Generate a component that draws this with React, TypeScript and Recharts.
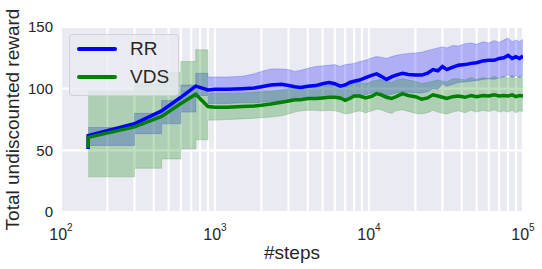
import {
  Area,
  CartesianGrid,
  ComposedChart,
  Label,
  Legend,
  Line,
  XAxis,
  YAxis,
} from 'recharts';

const FONT = '"Liberation Sans", Arial, sans-serif';
const INK = '#262626';
const RR_COLOR = '#0000ff';
const VDS_COLOR = '#008000';
const STEP_END = 900; // bands are stepped up to here, smooth after

const steps = [
  150, 150, 300, 450, 600, 750, 900,
  1000, 1200, 1500, 1800, 2000, 2300, 2700, 3000, 3300, 3600,
  4000, 4500, 5000, 5500, 6000, 6500, 7000, 7500, 8000, 8700,
  9500, 10500, 11200, 12000, 13000, 14000, 15000, 16500, 18000, 20000,
  22000, 24000, 26000, 28000, 30000, 32000, 35000, 38000, 42000, 46000,
  50000, 55000, 60000, 65000, 70000, 75000, 80000, 85000, 90000, 95000,
  100000,
];

const rrMean = [
  51, 62, 71.5, 82, 93, 102, 99,
  99.5, 99.5, 100, 100.5, 101.5, 103, 103.5, 102.5, 101.5, 101,
  102, 102.5, 104, 105, 104, 102, 103, 105, 106, 107,
  109, 111, 112, 110, 107.5, 109.5, 111, 112.5, 111.5, 111,
  111, 112.5, 115.5, 114.5, 118, 115.5, 117.5, 119, 119.5, 120.5,
  121, 122.5, 123, 123, 124.5, 125, 127, 124.5, 126, 124.5,
  126.5,
];

const rrLow = [
  54, 54, 63.5, 71.5, 81, 94.5, 88,
  88, 88, 88.5, 88.5, 89, 89.5, 90, 90, 90, 90.5,
  91, 91.5, 92.5, 93, 92.5, 91, 92, 93, 93.5, 94,
  95, 96.5, 97, 96.5, 94.5, 95.5, 96.5, 97.5, 97, 96.5,
  96.5, 97.5, 100, 99.5, 104, 102, 103.5, 105, 105.5, 106,
  106.5, 107.5, 108, 107.5, 109, 109.5, 111, 109, 110.5, 109,
  111,
];

const rrHigh = [
  68.5, 68.5, 80, 90.5, 103, 112.5, 109.5,
  109.5, 109.5, 110, 112, 114, 116, 116, 115.5, 114, 115,
  116.5, 118, 118.5, 119, 119.5, 118, 119.5, 120, 120.5, 122,
  123, 125, 126, 125.5, 124.5, 126, 127, 128, 128.5, 129,
  129.5, 131, 132, 133, 134, 133, 135, 134.5, 136.5, 137,
  136, 138, 137, 139, 137.5, 139.5, 141, 138, 139.5, 138,
  140,
];

const vdsMean = [
  52, 60.5, 69, 77.5, 88, 95.5, 85.5,
  85, 85, 85.5, 86, 86.5, 87.5, 89, 90, 91, 91,
  92, 92, 92.5, 93, 93, 92.5, 90.5, 92, 94, 94,
  92.5, 94, 96, 95, 93, 92, 93.5, 96, 94.5, 93.5,
  91.5, 92.5, 95, 94, 93, 92, 93.5, 94, 93, 94.5,
  93.5, 94.5, 94, 95, 94, 94.5, 94, 95, 93.5, 94.5,
  94,
];

const vdsLow = [
  28.5, 28.5, 35.5, 43, 51, 58.5, 74.5,
  74.5, 75, 75.5, 76, 76.5, 77, 78, 79.5, 81, 82,
  82.5, 82.5, 82, 82.5, 82, 81, 79.5, 80, 81, 82,
  80.5, 82, 83.5, 83, 81, 80, 82, 83, 81.5, 80,
  79.5, 80.5, 82.5, 81, 80, 79.5, 81, 82, 80.5, 82.5,
  81, 82.5, 81.5, 83, 81, 82, 81, 82.5, 80.5, 82,
  81.5,
];

const vdsHigh = [
  98, 98, 104, 113, 122, 131.5, 96,
  96, 96, 96.5, 97, 97.5, 98, 99, 100, 100.5, 100.5,
  101, 101.5, 102, 102.5, 103, 102.5, 102, 103.5, 104.5, 105,
  104, 106, 107, 107.5, 106, 105, 107, 108, 107, 106,
  104, 105, 106, 107, 106, 105.5, 108, 108, 107, 109,
  107.5, 109, 108, 110, 108, 110, 108.5, 111, 108, 110,
  109,
];

const xTicks = [
  100, 200, 300, 400, 500, 600, 700, 800, 900,
  1000, 2000, 3000, 4000, 5000, 6000, 7000, 8000, 9000,
  10000, 20000, 30000, 40000, 50000, 60000, 70000, 80000, 90000,
  100000,
];
const yTicks = [0, 50, 100, 150];

const legendItems = [
  { name: 'RR', color: RR_COLOR },
  { name: 'VDS', color: VDS_COLOR },
];

const data = steps.map((s, i) => ({
  steps: s,
  rr: rrMean[i],
  vds: vdsMean[i],
  rrEarly: s <= STEP_END ? [rrLow[i], rrHigh[i]] : null,
  rrLate: s >= STEP_END ? [rrLow[i], rrHigh[i]] : null,
  vdsEarly: s <= STEP_END ? [vdsLow[i], vdsHigh[i]] : null,
  vdsLate: s >= STEP_END ? [vdsLow[i], vdsHigh[i]] : null,
}));

function LogTick({ x, y, payload }: any) {
  const exp = Math.log10(payload.value);
  if (Math.abs(exp - Math.round(exp)) > 1e-6) return <g />;
  return (
    <text x={x} y={y + 20} textAnchor="middle" fill={INK} fontSize={16} fontFamily={FONT}>
      10
      <tspan dy={-9} fontSize={10}>
        {Math.round(exp)}
      </tspan>
    </text>
  );
}

function LegendBox() {
  return (
    <div
      style={{
        width: 110,
        height: 62,
        boxSizing: 'border-box',
        background: 'rgba(234,234,242,0.8)',
        border: '1px solid rgba(204,204,204,0.8)',
        borderRadius: 4,
        fontFamily: FONT,
      }}
    >
      {legendItems.map((item) => (
        <div key={item.name} style={{ display: 'flex', alignItems: 'center', height: 28 }}>
          <span
            style={{
              width: 40,
              height: 4,
              background: item.color,
              borderRadius: 2,
              marginLeft: 7,
              marginRight: 13,
            }}
          />
          <span style={{ fontSize: 19, color: INK, lineHeight: '28px' }}>{item.name}</span>
        </div>
      ))}
    </div>
  );
}

export default function App() {
  const band = { strokeWidth: 1, strokeOpacity: 0.2, fillOpacity: 0.25, dot: false, activeDot: false, isAnimationActive: false, legendType: 'none' as const };
  return (
    <div style={{ position: 'absolute', left: 0, top: 0, width: 542, height: 269, background: '#fff' }}>
      <ComposedChart width={542} height={269} data={data} margin={{ top: 27, right: 19, bottom: 0, left: 0 }}>
        <CartesianGrid stroke="#ffffff" strokeWidth={2.2} fill="#eaeaf2" />
        <XAxis
          dataKey="steps"
          type="number"
          scale="log"
          domain={[100, 100000]}
          allowDataOverflow
          ticks={xTicks}
          interval={0}
          tick={LogTick}
          tickLine={false}
          axisLine={false}
          height={57}
        >
          <Label
            content={({ viewBox }: any) => (
              <text
                x={viewBox.x + viewBox.width / 2}
                y={viewBox.y + 47}
                textAnchor="middle"
                fill={INK}
                fontSize={19}
                fontFamily={FONT}
              >
                #steps
              </text>
            )}
          />
        </XAxis>
        <YAxis
          type="number"
          domain={[0, 150]}
          allowDataOverflow
          ticks={yTicks}
          interval={0}
          width={61}
          tickLine={false}
          axisLine={false}
          tick={{ fill: INK, fontSize: 15, fontFamily: FONT }}
        >
          <Label
            content={({ viewBox }: any) => {
              const cx = viewBox.x + 19;
              const cy = viewBox.y + viewBox.height / 2;
              return (
                <text
                  x={cx}
                  y={cy}
                  transform={`rotate(-90, ${cx}, ${cy})`}
                  textAnchor="middle"
                  fill={INK}
                  fontSize={19}
                  fontFamily={FONT}
                >
                  Total undiscounted reward
                </text>
              );
            }}
          />
        </YAxis>
        <Area type="stepAfter" dataKey="rrEarly" fill={RR_COLOR} stroke={RR_COLOR} {...band} />
        <Area type="linear" dataKey="rrLate" fill={RR_COLOR} stroke={RR_COLOR} {...band} />
        <Area type="stepAfter" dataKey="vdsEarly" fill={VDS_COLOR} stroke={VDS_COLOR} {...band} />
        <Area type="linear" dataKey="vdsLate" fill={VDS_COLOR} stroke={VDS_COLOR} {...band} />
        <Line
          type="linear"
          dataKey="rr"
          stroke={RR_COLOR}
          strokeWidth={3.5}
          dot={false}
          activeDot={false}
          isAnimationActive={false}
        />
        <Line
          type="linear"
          dataKey="vds"
          stroke={VDS_COLOR}
          strokeWidth={3.5}
          dot={false}
          activeDot={false}
          isAnimationActive={false}
        />
        <Legend
          layout="vertical"
          align="center"
          verticalAlign="middle"
          wrapperStyle={{ left: 69, top: 34, width: 110, height: 62 }}
          content={LegendBox}
        />
      </ComposedChart>
    </div>
  );
}
